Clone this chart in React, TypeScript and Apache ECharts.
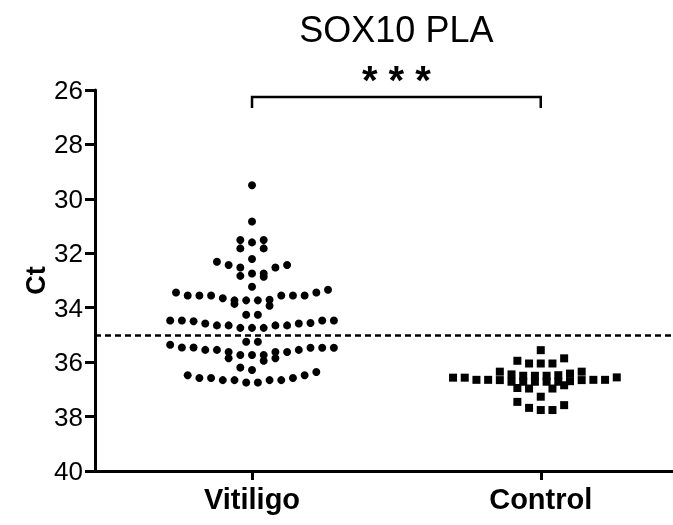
import React, { useEffect, useRef } from "react";
import * as echarts from "echarts";

const groupNames = ["Vitiligo", "Control"];
const groupPositions = [1, 2];
const yTicks = [26, 28, 30, 32, 34, 36, 38, 40];
const cutoffCt = 35;
const chartTitle = "SOX10 PLA";
const significance = "* * *";

// Vitiligo Ct values and their beeswarm lane (column slot) from the dot plot
const vitiligoCt = [
  29.5, 30.83, 31.51, 31.51, 31.6, 31.82, 31.82, 32.21,
  32.31, 32.43, 32.52, 32.52, 32.43,
  32.83, 32.74, 32.74, 32.86, 33.23,
  33.44, 33.55, 33.55, 33.55, 33.65, 33.73, 33.86, 33.73, 33.73, 33.71, 33.93, 33.55, 33.55, 33.55, 33.44, 33.34,
  34.26, 34.26,
  34.47, 34.47, 34.5, 34.58, 34.65, 34.65, 34.74, 34.74, 34.74, 34.65, 34.65, 34.58, 34.56, 34.47, 34.47,
  35.25, 35.25,
  35.36, 35.46, 35.46, 35.55, 35.55, 35.63, 35.86, 35.74, 35.74, 35.74, 35.95, 35.63, 35.86, 35.63, 35.55, 35.47, 35.47, 35.47,
  36.2, 36.29,
  36.48, 36.58, 36.58, 36.66, 36.66, 36.75, 36.75, 36.66, 36.66, 36.58, 36.48, 36.36,
];
const vitiligoLane = [
  0, 0, -1, 1, 0, -1, 1, 0,
  -3, -2, -1, 2, 3,
  -1, 0, 1, 1, 0,
  -6.5, -5.5, -4.5, -3.5, -2.5, -1.5, -1.5, -0.5, 0.5, 1.5, 1.5, 2.5, 3.5, 4.5, 5.5, 6.5,
  -0.5, 0.5,
  -7, -6, -5, -4, -3, -2, -1, 0, 1, 2, 3, 4, 5, 6, 7,
  -0.5, 0.5,
  -7, -6, -5, -4, -3, -2, -2, -1, 0, 1, 1, 2, 2, 3, 4, 5, 6, 7,
  -1, 0,
  -5.5, -4.5, -3.5, -2.5, -1.5, -0.5, 0.5, 1.5, 2.5, 3.5, 4.5, 5.5,
];

// Control Ct values and their beeswarm lane
const controlCt = [
  35.56,
  35.95, 36.05, 36.05, 36.05, 35.86,
  36.35, 36.45, 36.5, 36.5, 36.5, 36.48, 36.42, 36.35,
  36.57, 36.57, 36.65, 36.65, 36.66, 36.72, 36.72, 36.72, 36.72, 36.72, 36.7, 36.66, 36.65, 36.65, 36.56,
  36.95, 36.97, 36.97, 36.85,
  37.46, 37.68, 37.27, 37.76, 37.76, 37.58,
];
const controlLane = [
  0,
  -2, -1, 0, 1, 2,
  -3.5, -2.5, -1.5, -0.5, 0.5, 1.5, 2.5, 3.5,
  -7.5, -6.5, -5.5, -4.5, -3.5, -2.5, -1.5, -0.5, 0.5, 1.5, 2.5, 3.5, 4.5, 5.5, 6.5,
  -2, -1, 1, 2,
  -2, -1, 0, 0, 1, 2,
];

const FONT = "'Liberation Sans', Arial, Helvetica, sans-serif";
const X_MIN = 0.4562;
const X_MAX = 2.458;
const LANE_WIDTH = 0.0405; // width of one beeswarm slot in x-axis units

export default function App() {
  const ref = useRef<HTMLDivElement>(null);

  useEffect(() => {
    if (!ref.current) return;
    const chart = echarts.init(ref.current, null, { renderer: "svg" });

    const toPoints = (center: number, vals: number[], lanes: number[]) =>
      vals.map((v, i) => [center + lanes[i] * LANE_WIDTH, v]);

    chart.setOption({
      animation: false,
      grid: { left: 95, right: 0, top: 90, bottom: 54, containLabel: false },
      xAxis: {
        type: "value",
        min: X_MIN,
        max: X_MAX,
        axisLine: { show: true, lineStyle: { color: "#000", width: 3 } },
        axisTick: {
          show: true,
          customValues: groupPositions,
          length: 9,
          lineStyle: { color: "#000", width: 3 },
        },
        axisLabel: {
          show: true,
          customValues: groupPositions,
          formatter: (v: number) => {
            const idx = groupPositions.indexOf(Math.round(v));
            return idx >= 0 ? groupNames[idx] : "";
          },
          margin: 13,
          color: "#000",
          fontFamily: FONT,
          fontWeight: "bold",
          fontSize: 29,
        },
        splitLine: { show: false },
      },
      yAxis: {
        type: "value",
        inverse: true,
        min: yTicks[0],
        max: yTicks[yTicks.length - 1],
        interval: 2,
        name: "Ct",
        nameLocation: "middle",
        nameGap: 46,
        nameMoveOverlap: false,
        nameTextStyle: {
          color: "#000",
          fontFamily: FONT,
          fontWeight: "bold",
          fontSize: 27,
        },
        axisLine: { show: true, lineStyle: { color: "#000", width: 3 } },
        axisTick: { show: true, length: 10, lineStyle: { color: "#000", width: 3 } },
        axisLabel: {
          color: "#000",
          fontFamily: FONT,
          fontSize: 26,
          margin: 12,
        },
        splitLine: { show: false },
      },
      series: [
        {
          name: groupNames[0],
          type: "scatter",
          symbol: "circle",
          symbolSize: 8,
          itemStyle: { color: "#000", opacity: 1 },
          data: toPoints(groupPositions[0], vitiligoCt, vitiligoLane),
          markLine: {
            silent: true,
            symbol: "none",
            label: { show: false },
            lineStyle: { color: "#000", width: 2.5, type: [6, 4], opacity: 1 },
            data: [{ yAxis: cutoffCt }],
          },
          z: 3,
        },
        {
          name: groupNames[1],
          type: "scatter",
          symbol: "rect",
          symbolSize: 8,
          itemStyle: { color: "#000", opacity: 1 },
          data: toPoints(groupPositions[1], controlCt, controlLane),
          z: 3,
        },
      ],
    });

    const x1 = chart.convertToPixel({ xAxisIndex: 0 }, groupPositions[0]) as number;
    const x2 = chart.convertToPixel({ xAxisIndex: 0 }, groupPositions[1]) as number;
    const mid = (x1 + x2) / 2;
    const barY = 97;
    chart.setOption({
      graphic: [
        {
          type: "text",
          x: mid,
          y: 29,
          style: {
            text: chartTitle,
            fill: "#000",
            font: `36px ${FONT}`,
            textAlign: "center",
            textVerticalAlign: "middle",
          },
        },
        {
          type: "text",
          x: mid,
          y: 80,
          style: {
            text: significance,
            fill: "#000",
            font: `bold 40px ${FONT}`,
            textAlign: "center",
            textVerticalAlign: "middle",
          },
        },
        {
          type: "polyline",
          shape: {
            points: [
              [x1, barY + 11],
              [x1, barY],
              [x2, barY],
              [x2, barY + 11],
            ],
          },
          style: { stroke: "#000", lineWidth: 2.5, fill: "none" },
        },
      ],
    });

    return () => chart.dispose();
  }, []);

  return (
    <div
      ref={ref}
      style={{ position: "fixed", left: 0, top: 0, width: 673, height: 525 }}
    />
  );
}
